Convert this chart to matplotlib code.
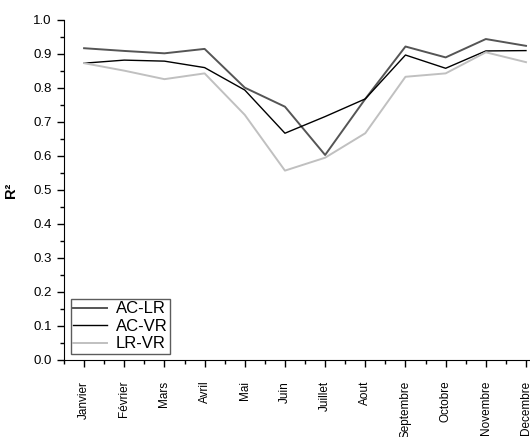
import numpy as np
import matplotlib
matplotlib.use('Agg')
import matplotlib.pyplot as plt
from matplotlib.ticker import MultipleLocator

plt.rcParams['font.family'] = ['Liberation Sans', 'DejaVu Sans']

mois = ['Janvier', 'Février', 'Mars', 'Avril', 'Mai', 'Juin', 'Juillet',
        'Aout', 'Septembre', 'Octobre', 'Novembre', 'Decembre']
ac_lr = [0.917, 0.909, 0.902, 0.915, 0.801, 0.745, 0.603, 0.768, 0.922, 0.890, 0.944, 0.924]
ac_vr = [0.873, 0.882, 0.879, 0.860, 0.794, 0.667, 0.716, 0.768, 0.897, 0.858, 0.909, 0.910]
lr_vr = [0.873, 0.851, 0.826, 0.843, 0.721, 0.557, 0.595, 0.667, 0.833, 0.843, 0.905, 0.876]

fig = plt.figure(figsize=(5.3, 4.37), dpi=100)
ax = fig.add_axes([64 / 530, 77 / 437, 466 / 530, 340 / 437])

x = np.arange(len(mois))
ax.plot(x, ac_lr, color='#555555', lw=1.4, label='AC-LR')
ax.plot(x, ac_vr, color='black', lw=1.0, label='AC-VR')
ax.plot(x, lr_vr, color='#c0c0c0', lw=1.4, label='LR-VR')

ax.set_xlim(-0.5, 11.1)
ax.set_ylim(0, 1.0)
ax.set_xticks(x)
ax.set_xticklabels(mois, rotation=90, fontsize=8.5)
ax.xaxis.set_minor_locator(MultipleLocator(0.5))
ax.yaxis.set_minor_locator(MultipleLocator(0.05))
ax.set_yticks(np.arange(0, 1.01, 0.1))
ax.set_yticklabels(['%.1f' % v for v in np.arange(0, 1.01, 0.1)], fontsize=9.5)
ax.tick_params(which='major', direction='out', length=5, width=1)
ax.tick_params(which='minor', direction='out', length=3, width=1)
ax.tick_params(axis='x', which='major', pad=10)
ax.tick_params(axis='y', which='major', pad=4)
ax.spines['top'].set_visible(False)
ax.spines['right'].set_visible(False)
ax.set_ylabel('R²', fontweight='bold', fontsize=10.5, labelpad=11)

leg = ax.legend(loc='lower left', bbox_to_anchor=(0.015, 0.018), fontsize=12,
                fancybox=False, edgecolor='#333333', handlelength=2.0,
                handletextpad=0.55, labelspacing=0.15, borderpad=0.15, borderaxespad=0)
leg.get_frame().set_linewidth(1.0)

fig.savefig('out.png', dpi=100)
